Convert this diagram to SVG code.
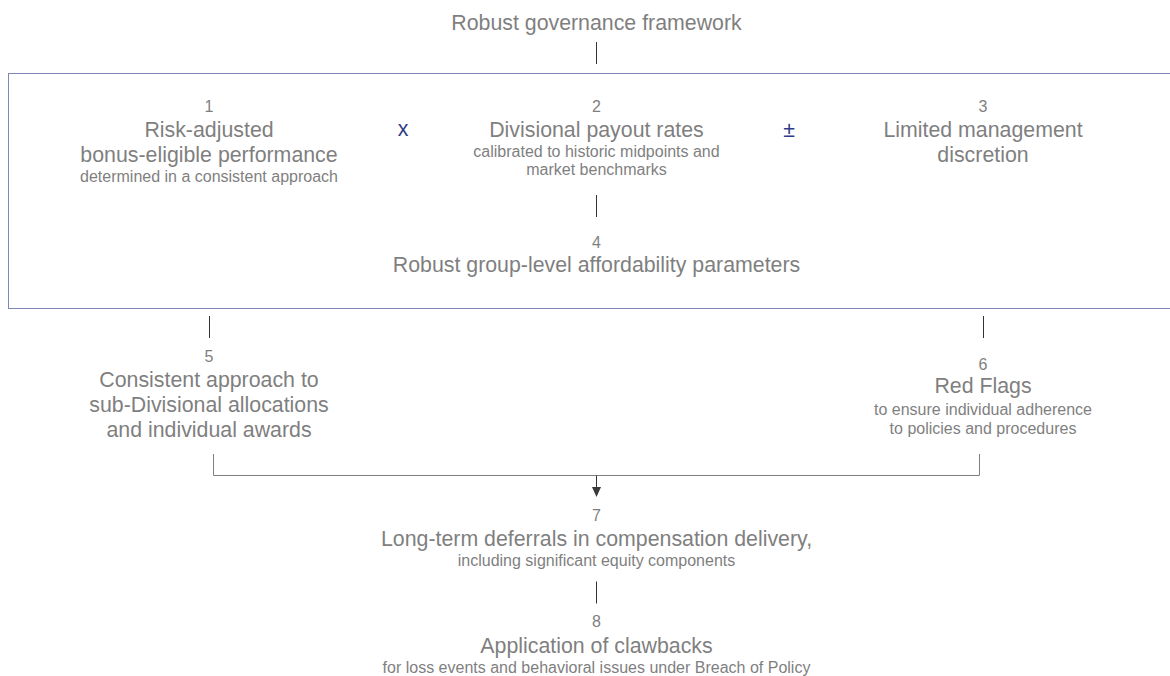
<svg xmlns="http://www.w3.org/2000/svg" width="1170" height="676" viewBox="0 0 1170 676">
<defs>
<style>
text{font-family:"Liberation Sans",Arial,sans-serif;fill:#7f7f7f;text-anchor:middle}
.m{font-size:21.33px}
.s{font-size:16px}
.n{font-size:16px}
.op{font-size:21.33px;fill:#2e3a87}
.c{stroke:#333;stroke-width:1;fill:none}
.b{stroke:#808080;stroke-width:1;fill:none}
</style>
</defs>
<rect x="0" y="0" width="1170" height="676" fill="#fff"/>
<g id="title"><text class="m" x="596.5" y="30">Robust governance framework</text></g>
<g id="frame"><rect x="8.5" y="73.5" width="1175" height="235" fill="none" stroke="#7f87b8" stroke-width="1"/></g>
<g id="node1">
<text class="n" x="209" y="112">1</text>
<text class="m" x="209" y="137">Risk-adjusted</text>
<text class="m" x="209" y="162">bonus-eligible performance</text>
<text class="s" x="209" y="182">determined in a consistent approach</text>
</g>
<g id="op1"><text class="op" x="403" y="136">x</text></g>
<g id="node2">
<text class="n" x="596.5" y="112">2</text>
<text class="m" x="596.5" y="137">Divisional payout rates</text>
<text class="s" x="596.5" y="157">calibrated to historic midpoints and</text>
<text class="s" x="596.5" y="175">market benchmarks</text>
</g>
<g id="op2"><text class="op" x="789" y="137">±</text></g>
<g id="node3">
<text class="n" x="983" y="112">3</text>
<text class="m" x="983" y="137">Limited management</text>
<text class="m" x="983" y="162">discretion</text>
</g>
<g id="node4">
<text class="n" x="596.5" y="248">4</text>
<text class="m" x="596.5" y="272">Robust group-level affordability parameters</text>
</g>
<g id="node5">
<text class="n" x="209" y="362">5</text>
<text class="m" x="209" y="387">Consistent approach to</text>
<text class="m" x="209" y="412">sub-Divisional allocations</text>
<text class="m" x="209" y="437">and individual awards</text>
</g>
<g id="node6">
<text class="n" x="983" y="370">6</text>
<text class="m" x="983" y="393">Red Flags</text>
<text class="s" x="983" y="415">to ensure individual adherence</text>
<text class="s" x="983" y="434">to policies and procedures</text>
</g>
<g id="node7">
<text class="n" x="596.5" y="521">7</text>
<text class="m" x="596.5" y="546">Long-term deferrals in compensation delivery,</text>
<text class="s" x="596.5" y="566">including significant equity components</text>
</g>
<g id="node8">
<text class="n" x="596.5" y="627">8</text>
<text class="m" x="596.5" y="653">Application of clawbacks</text>
<text class="s" x="596.5" y="673">for loss events and behavioral issues under Breach of Policy</text>
</g>
<g id="connectors">
<line class="c" x1="596.5" y1="42" x2="596.5" y2="64"/>
<line class="c" x1="596.5" y1="195" x2="596.5" y2="217"/>
<line class="c" x1="209.5" y1="316" x2="209.5" y2="338"/>
<line class="c" x1="983.5" y1="316" x2="983.5" y2="338"/>
<path class="b" d="M213.5 454 V475.5 H979.5 V454"/>
<line class="c" x1="596.5" y1="475.5" x2="596.5" y2="488"/>
<polygon points="592,487 601,487 596.5,497" fill="#3a3a3a"/>
<line class="c" x1="596.5" y1="581.5" x2="596.5" y2="603.5"/>
</g>
</svg>
